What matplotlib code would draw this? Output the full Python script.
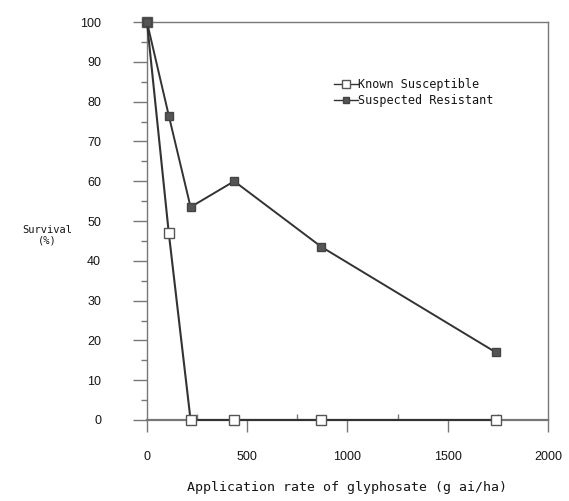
import matplotlib.pyplot as plt
from matplotlib.ticker import MultipleLocator

# glyphosate rates (g ai/ha) and survival (%)
rates = [0, 108.75, 217.5, 435, 870, 1740]
susceptible = [100, 47, 0, 0, 0, 0]
resistant = [100, 76.5, 53.5, 60, 43.5, 17]

xticks = [0, 500, 1000, 1500, 2000]
yticks = list(range(0, 101, 10))

fig = plt.figure(figsize=(5.69, 5.01), dpi=100)
ax = fig.add_axes([0.2583, 0.1617, 0.7047, 0.7943])

axcol = "#777777"
linecol = "#333333"
txtcol = "#151515"

ax.plot(rates, susceptible, color=linecol, linewidth=1.5, marker="s", markersize=7.5,
        markerfacecolor="white", markeredgecolor="#555555", label="Known Susceptible",
        zorder=3, clip_on=False)
ax.plot(rates, resistant, color=linecol, linewidth=1.4, marker="s", markersize=6,
        markerfacecolor="#555555", markeredgecolor="#444444", label="Suspected Resistant",
        zorder=4, clip_on=False)

ax.set_xlim(0, 2000)
ax.set_ylim(0, 100)
ax.set_xticks(xticks)
ax.set_yticks(yticks)
ax.xaxis.set_minor_locator(MultipleLocator(250))
ax.yaxis.set_minor_locator(MultipleLocator(5))

for s in ax.spines.values():
    s.set_color(axcol)
    s.set_linewidth(1.0)
ax.spines["bottom"].set_linewidth(1.6)

ax.tick_params(axis="y", which="major", direction="out", length=10, width=1, color=axcol,
               pad=23, labelsize=9, labelcolor=txtcol)
ax.tick_params(axis="y", which="minor", direction="out", length=4, width=1, color=axcol)
ax.tick_params(axis="x", which="major", direction="out", length=8.5, width=1, color=axcol,
               pad=14, labelsize=9, labelcolor=txtcol)
ax.tick_params(axis="x", which="minor", direction="in", length=4, width=1, color=axcol)

for lab in ax.get_xticklabels() + ax.get_yticklabels():
    lab.set_family("Liberation Sans")

ax.set_xlabel("Application rate of glyphosate (g ai/ha)", family="DejaVu Sans Mono",
              fontsize=9.5, color=txtcol, labelpad=13)
fig.text(0.083, 0.53, "Survival\n(%)", ha="center", va="center", family="DejaVu Sans Mono",
         fontsize=7.5, color=txtcol, linespacing=1.0)

leg = ax.legend(loc="upper left", bbox_to_anchor=(0.44, 0.885), frameon=False,
                handlelength=2.0, handletextpad=0.05, labelspacing=0.2, markerscale=0.7,
                prop={"family": "DejaVu Sans Mono", "size": 8.5})
for t in leg.get_texts():
    t.set_color(txtcol)
for h in leg.get_lines():
    h.set_linewidth(1.0)

fig.savefig("out.png", dpi=100)
